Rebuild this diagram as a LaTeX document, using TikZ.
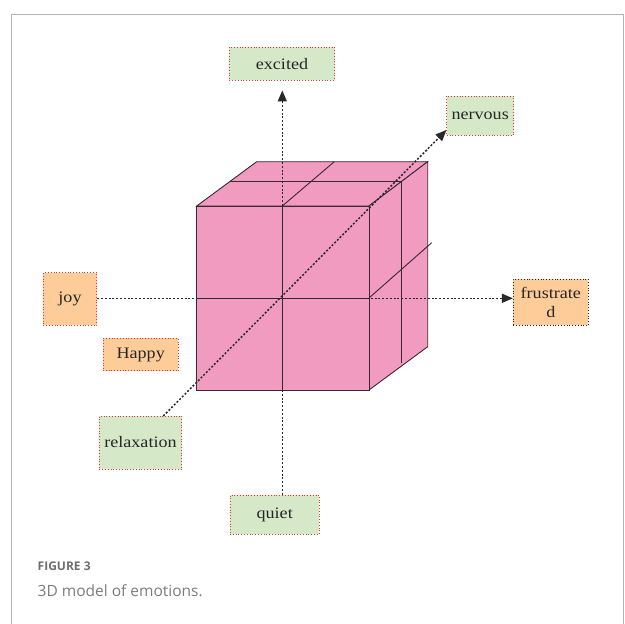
\documentclass[tikz,border=0pt]{standalone}
\usepackage{fontspec}
\usetikzlibrary{arrows.meta,calc}
\newfontfamily\lblfont{Liberation Serif}[FakeStretch=1.13]
\newfontfamily\capfont{Open Sans}
\definecolor{cubepink}{RGB}{242,155,193}
\definecolor{cubeedge}{RGB}{58,40,48}
\definecolor{boxgreen}{RGB}{213,232,200}
\definecolor{boxorange}{RGB}{254,204,153}
\definecolor{boxred}{RGB}{232,52,52}
\definecolor{axisgray}{RGB}{40,40,40}
\definecolor{framegray}{RGB}{180,180,180}
\definecolor{capgray}{RGB}{110,110,110}
\tikzset{
  lbl/.style={font=\lblfont\fontsize{16}{18.5}\selectfont, text=black!85, inner sep=0pt, align=center, dotted, line width=0.8pt},
  greenbox/.style={lbl, fill=boxgreen, draw=boxred},
  orangebox/.style={lbl, fill=boxorange, draw=boxred},
  darkorangebox/.style={lbl, fill=boxorange, draw=axisgray},
  face/.style={fill=cubepink, draw=cubeedge, line width=0.9pt, line join=miter},
  grid/.style={draw=cubeedge, line width=0.9pt},
  axisline/.style={draw=axisgray, line width=1.5pt, dash pattern=on 2pt off 1.8pt},
  axisarrow/.style={axisline, -{Triangle[length=11pt,width=9pt]}},
}
\begin{document}
\begin{tikzpicture}[x=1pt,y=-1pt]
\useasboundingbox (0,0) rectangle (625,624);
% frame
\draw[framegray, line width=1.3pt] (11.5,640) -- (11.5,14.5) -- (623.5,14.5) -- (623.5,640);

% cube
\draw[face] (196.7,206) -- (256.7,161.7) -- (427.7,161.7) -- (369,206) -- cycle;
\draw[face] (369,206) -- (427.7,161.7) -- (427.7,346.7) -- (369,390) -- cycle;
\draw[face] (196.7,206) rectangle (369,390);
\draw[grid] (282.3,206) -- (282.3,390);
\draw[grid] (196.7,298) -- (369,298);
\draw[grid] (230,181.7) -- (401.7,181.7);
\draw[grid] (282.3,206) -- (334.3,161.7);
\draw[grid] (401.7,181.7) -- (401.7,363.3);
\draw[grid] (369,298) -- (431.7,242.7);

% label boxes
\node[greenbox, minimum width=105.4pt, minimum height=32.7pt] (excited) at (282,63.7) {excited};
\node[greenbox, minimum width=67pt, minimum height=39.3pt] (nervous) at (480.2,115.7) {nervous};
\node[darkorangebox, minimum width=75pt, minimum height=46pt] (frus) at (550.8,302.3) {frustrate\\d};
\node[orangebox, minimum width=53.4pt, minimum height=52.6pt] (joy) at (70,299) {joy};
\node[orangebox, minimum width=75.3pt, minimum height=32.4pt] (happy) at (140.7,354.5) {Happy};
\node[greenbox, minimum width=82.4pt, minimum height=53pt] (relax) at (140.5,442.5) {relaxation};
\node[greenbox, minimum width=89.3pt, minimum height=39.3pt] (quiet) at (274.7,514.7) {quiet};

% axes
\coordinate (ctr) at (282.3,298.3);
\coordinate (d0) at (163.3,416);
\coordinate (d1) at (446.5,130);
\draw[axisarrow, shorten >=10pt] (ctr |- quiet.north) -- (ctr |- excited.south);
\draw[axisarrow] (joy.east |- ctr) -- (frus.west |- ctr);
\draw[axisarrow] (d0) -- (d1);

% caption
\node[anchor=base west, font=\capfont\bfseries\fontsize{12}{14}\selectfont, text=capgray, inner sep=0pt] (figlbl) at (37.5,570) {FIGURE 3};
\node[anchor=base west, font=\capfont\fontsize{15.5}{18}\selectfont, text=capgray!90, inner sep=0pt] (captxt) at (37.5,596.5) {3D model of emotions.};
\end{tikzpicture}
\end{document}
